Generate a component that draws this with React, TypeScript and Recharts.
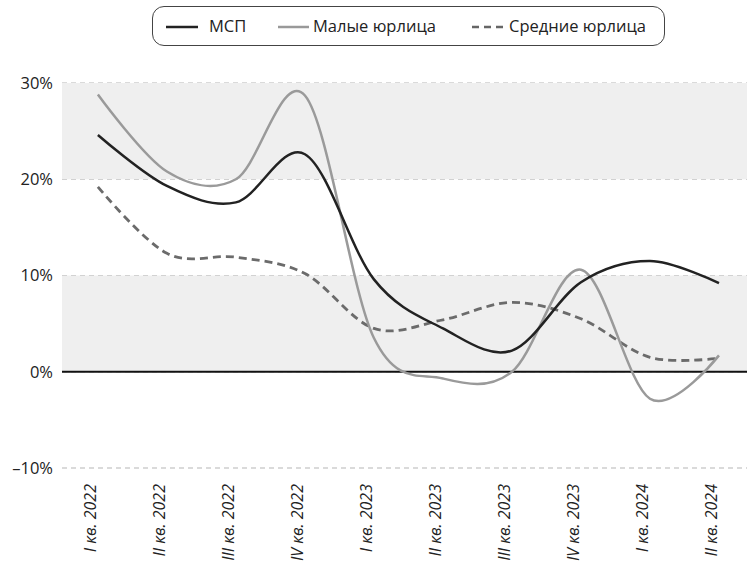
import React from 'react';
import { LineChart, Line, XAxis, YAxis, CartesianGrid, ReferenceArea, ReferenceLine, Legend } from 'recharts';

const quarters = ['I кв. 2022', 'II кв. 2022', 'III кв. 2022', 'IV кв. 2022', 'I кв. 2023', 'II кв. 2023', 'III кв. 2023', 'IV кв. 2023', 'I кв. 2024', 'II кв. 2024'];
const msp = [24.6, 19.3, 17.6, 22.6, 9.6, 4.5, 2.2, 9.3, 11.5, 9.2];
const small = [28.8, 20.8, 20.0, 28.7, 3.5, -0.7, 0.0, 10.6, -2.8, 1.7];
const medium = [19.2, 12.3, 11.9, 10.2, 4.5, 5.4, 7.2, 5.5, 1.5, 1.4];
const yTicks = [-10, 0, 10, 20, 30];
const bands = [[0, 10], [20, 30]];
const seriesNames = ['МСП', 'Малые юрлица', 'Средние юрлица'];

const data = quarters.map((q, i) => ({ i, q, msp: msp[i], small: small[i], medium: medium[i] }));
const xTicks = quarters.map((_, i) => i);
const xDomain = [-0.52, quarters.length - 1 + 0.406];

const FONT = '"Open Sans", "Noto Sans", sans-serif';

// Cardinal spline (tension 0, i.e. Catmull-Rom uniform) curve factory
function cardinalCurve(context: any) {
  const k = 1 / 6;
  let x0 = NaN, x1 = NaN, x2 = NaN, y0 = NaN, y1 = NaN, y2 = NaN;
  let pt = 0;
  let line: number = NaN;
  const seg = (x: number, y: number) => {
    context.bezierCurveTo(
      x1 + k * (x2 - x0), y1 + k * (y2 - y0),
      x2 + k * (x1 - x), y2 + k * (y1 - y),
      x2, y2
    );
  };
  return {
    areaStart() { line = 0; },
    areaEnd() { line = NaN; },
    lineStart() { x0 = x1 = x2 = y0 = y1 = y2 = NaN; pt = 0; },
    lineEnd() {
      switch (pt) {
        case 2: context.lineTo(x2, y2); break;
        case 3: seg(x1, y1); break;
      }
      if (line || (line !== 0 && pt === 1)) context.closePath();
      line = 1 - line;
    },
    point(xx: number, yy: number) {
      const x = +xx, y = +yy;
      switch (pt) {
        case 0: pt = 1; if (line) context.lineTo(x, y); else context.moveTo(x, y); break;
        case 1: pt = 2; x1 = x; y1 = y; break;
        case 2: pt = 3; seg(x, y); break;
        default: seg(x, y); break;
      }
      x0 = x1; x1 = x2; x2 = x;
      y0 = y1; y1 = y2; y2 = y;
    },
  };
}

const fmtPct = (v: number) => (v < 0 ? '–' + Math.abs(v) : String(v)) + '%';

const XTick = (props: any) => {
  const { x, y, payload } = props;
  const bx = x - 1.5;
  return (
    <text
      x={bx}
      y={y}
      transform={`rotate(-90 ${bx} ${y})`}
      textAnchor="end"
      fontSize={16}
      fontStyle="italic"
      fontFamily={FONT}
      fill="#222"
    >
      {quarters[payload.value]}
    </text>
  );
};

const LegendBox = () => {
  const item = (left: number, w: number, color: string, dash?: string) => (
    <svg style={{ position: 'absolute', left, top: 14, overflow: 'visible' }} width={w} height={12}>
      <line x1={0} y1={6} x2={w} y2={6} stroke={color} strokeWidth={2.5} strokeDasharray={dash} />
    </svg>
  );
  const label = (left: number, text: string) => (
    <span style={{ position: 'absolute', left, top: 0, lineHeight: '38px', fontSize: 16.5, color: '#222', whiteSpace: 'nowrap', fontFamily: FONT }}>
      {text}
    </span>
  );
  return (
    <div style={{ position: 'relative', width: 511, height: 38, border: '1px solid #444', borderRadius: 12, background: '#fff' }}>
      {item(13, 32, '#222')}
      {label(56, seriesNames[0])}
      {item(125, 31, '#999')}
      {label(160, seriesNames[1])}
      {item(319, 35, '#666', '7 5')}
      {label(356, seriesNames[2])}
    </div>
  );
};

export default function App() {
  return (
    <div style={{ position: 'absolute', left: 0, top: 0, fontFamily: FONT }}>
      <LineChart width={747} height={570} data={data} margin={{ top: 83, right: 0, bottom: 2, left: 0 }}>
        {bands.map(([a, b]) => (
          <ReferenceArea key={a} y1={a} y2={b} fill="#efefef" fillOpacity={1} stroke="none" />
        ))}
        <CartesianGrid horizontal vertical={false} stroke="#b5b5b5" strokeDasharray="5 4" />
        <XAxis
          dataKey="i"
          type="number"
          domain={xDomain}
          allowDataOverflow
          ticks={xTicks}
          axisLine={false}
          tickLine={false}
          tickSize={8}
          tickMargin={8}
          height={100}
          interval={0}
          tick={<XTick />}
        />
        <YAxis
          domain={[-10, 30]}
          ticks={yTicks}
          width={62}
          axisLine={false}
          tickLine={false}
          tickMargin={3}
          tickFormatter={fmtPct}
          tick={{ fontSize: 16.5, fill: '#222', fontFamily: FONT }}
        />
        <ReferenceLine y={0} stroke="#111" strokeWidth={1.8} />
        <Legend
          layout="horizontal"
          verticalAlign="middle"
          align="center"
          wrapperStyle={{ position: 'absolute', top: 6, left: 152, width: 513, height: 40 }}
          content={() => <LegendBox />}
        />
        <Line dataKey="medium" name={seriesNames[2]} type={cardinalCurve as any} stroke="#6b6b6b" strokeWidth={2.8} strokeDasharray="8 5" dot={false} activeDot={false} isAnimationActive={false} />
        <Line dataKey="small" name={seriesNames[1]} type={cardinalCurve as any} stroke="#9a9a9a" strokeWidth={2.5} dot={false} activeDot={false} isAnimationActive={false} />
        <Line dataKey="msp" name={seriesNames[0]} type={cardinalCurve as any} stroke="#222" strokeWidth={2.5} dot={false} activeDot={false} isAnimationActive={false} />
      </LineChart>
    </div>
  );
}
